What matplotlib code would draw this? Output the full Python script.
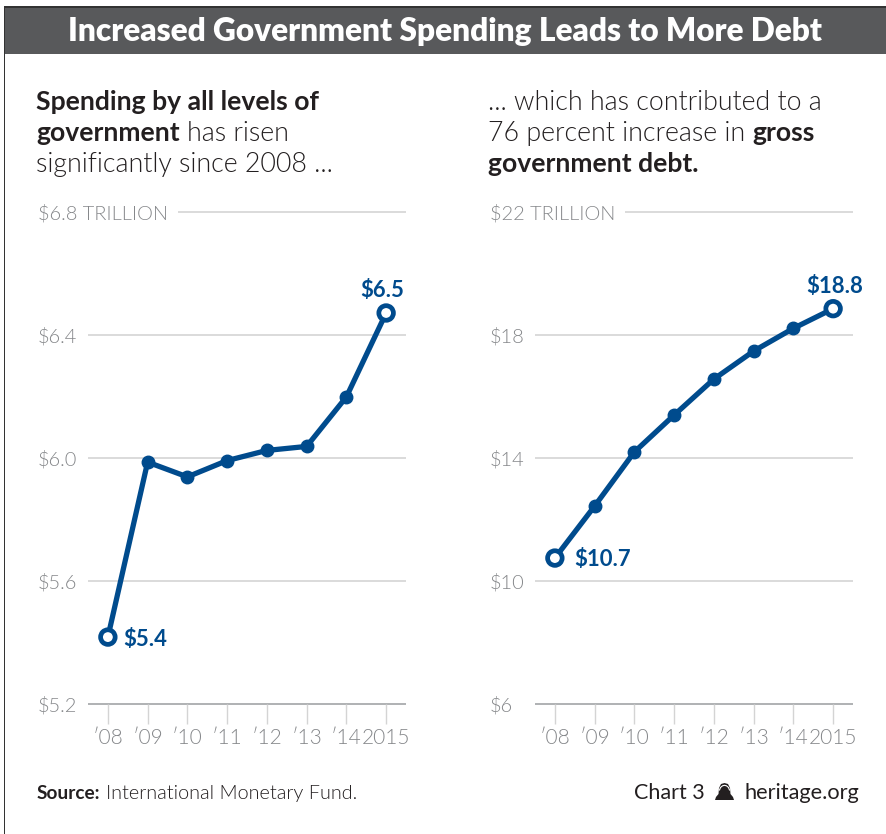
import matplotlib
matplotlib.use("Agg")
import matplotlib.pyplot as plt
import matplotlib.patheffects as pe
from matplotlib.lines import Line2D
from matplotlib.patches import Polygon, Rectangle

W, H = 887, 834
BLUE = "#004b8d"
GREY_TEXT = "#85878a"
GRID = "#d4d4d4"
DARK = "#231f20"
LIGHT = 300

years = [2008, 2009, 2010, 2011, 2012, 2013, 2014, 2015]
year_labels = ["\u203208", "\u203209", "\u203210", "\u203211", "\u203212", "\u203213", "\u203214", "2015"]

spending = [5.416, 5.985, 5.937, 5.99, 6.023, 6.036, 6.197, 6.47]
spending_ticks = [5.2, 5.6, 6.0, 6.4, 6.8]
spending_labels = ["$5.2", "$5.6", "$6.0", "$6.4", "$6.8 TRILLION"]

debt = [10.73, 12.42, 14.18, 15.38, 16.55, 17.46, 18.2, 18.84]
debt_ticks = [6, 10, 14, 18, 22]
debt_labels = ["$6", "$10", "$14", "$18", "$22 TRILLION"]

plt.rcParams["font.family"] = ["Lato", "DejaVu Sans"]

fig = plt.figure(figsize=(W / 100, H / 100), dpi=100)


def fx(px):
    return px / W


def fy(py):
    return 1 - py / H


def runs(x, y, parts, size, bold_size=None, color=DARK):
    # strings of mixed weight on one baseline, laid end to end
    rend = fig.canvas.get_renderer()
    for s, weight in parts:
        sz = bold_size if (bold_size and weight == "bold") else size
        t = fig.text(fx(x), fy(y), s, fontsize=sz, fontweight=weight, color=color,
                     ha="left", va="baseline")
        x = t.get_window_extent(rend).x1 + size * 0.36


def panel(left, values, ticks, labels, pad, top_start, label_first, label_last):
    ax = fig.add_axes([fx(left), fy(703.5), 318 / W, (703.5 - 211.5) / H])
    ax.set_xlim(2007.5, 2015.5)
    ax.set_ylim(ticks[0], ticks[-1])
    ax.patch.set_alpha(0)
    for s in ax.spines.values():
        s.set_visible(False)

    ax.hlines(ticks[1:-1], 2007.5, 2015.5, color=GRID, lw=1.2, zorder=1)
    ax.hlines(ticks[-1], top_start, 2015.5, color=GRID, lw=1.2, zorder=1, clip_on=False)
    ax.hlines(ticks[0], 2007.5, 2015.5, color="#a9abae", lw=1.3, zorder=1, clip_on=False)

    ax.set_yticks(ticks, labels)
    ax.tick_params(axis="y", length=0, pad=pad, labelsize=14.4, labelcolor=GREY_TEXT)
    for t in ax.get_yticklabels():
        t.set_ha("left")
        t.set_fontweight(LIGHT)

    ax.set_xticks(years, year_labels)
    ax.tick_params(axis="x", length=14.5, width=1, color=GRID, pad=3.5,
                   labelsize=15, labelcolor=GREY_TEXT)
    for t in ax.get_xticklabels():
        t.set_fontweight(LIGHT)

    ax.plot(years, values, color=BLUE, lw=3.8, marker="o", ms=9, zorder=3,
            clip_on=False, solid_joinstyle="round")
    shadow = [pe.SimplePatchShadow(offset=(0.5, -1.5), shadow_rgbFace="#555555", alpha=0.3),
              pe.Normal()]
    ax.plot([years[0], years[-1]], [values[0], values[-1]], ls="none", marker="o", ms=10.5,
            mfc="white", mec=BLUE, mew=3.4, zorder=4, clip_on=False, path_effects=shadow)

    ax.annotate(f"${values[0]:.1f}", (years[0], values[0]), xytext=label_first,
                textcoords="offset points", color=BLUE, fontsize=15.9, fontweight="bold",
                ha="left", va="center")
    ax.annotate(f"${values[-1]:.1f}", (years[-1], values[-1]), xytext=label_last,
                textcoords="offset points", color=BLUE, fontsize=15.9, fontweight="bold",
                ha="center", va="center")
    return ax


# header band and outer rules
fig.add_artist(Rectangle((fx(5), fy(54)), 1 - fx(5), 48 / H, transform=fig.transFigure,
                         color="#58595b", lw=0))
fig.add_artist(Rectangle((fx(4), fy(8)), 1 - fx(4), 2 / H, transform=fig.transFigure,
                         color="#333333", lw=0))
fig.add_artist(Rectangle((fx(4), 0), 1.5 / W, fy(6), transform=fig.transFigure,
                         color="#333333", lw=0))

fig.text(fx(445.5), fy(41), "Increased Government Spending Leads to More Debt", color="white",
         fontsize=22.8, fontweight="heavy", ha="center", va="baseline")

# intro text above each panel
SUB = 19.3
SUB_BOLD = 19.1
runs(36, 110, [("Spending by all levels of", "bold")], SUB, SUB_BOLD)
runs(36, 141, [("government", "bold"), ("has risen", LIGHT)], SUB, SUB_BOLD)
runs(36, 172, [("significantly since 2008 ...", LIGHT)], SUB, SUB_BOLD)

runs(488, 110, [("... which has contributed to a", LIGHT)], SUB, SUB_BOLD)
runs(488, 141, [("76 percent increase in", LIGHT), ("gross", "bold")], SUB, SUB_BOLD)
runs(488, 172, [("government debt.", "bold")], SUB, SUB_BOLD)

panel(88, spending, spending_ticks, spending_labels, 36, 2009.77, (11, -2), (-2.5, 16))
panel(535, debt, debt_ticks, debt_labels, 32.5, 2009.77, (14, -1), (1, 16))

# footer
runs(37, 799, [("Source:", "bold"), ("International Monetary Fund.", LIGHT)], 14.3, 13.7)
runs(634.5, 799, [("Chart 3", "normal")], 15.5)
runs(745, 799, [("heritage.org", "normal")], 15.7)

# bell mark between chart number and site name
bell = [(715, 800), (716, 797), (718.5, 794), (719, 788), (721, 784), (724.5, 783),
        (728, 784), (730, 788), (730.5, 794), (733, 797), (734, 800)]
fig.add_artist(Polygon([(fx(a), fy(b)) for a, b in bell], closed=True, transform=fig.transFigure,
                       color=DARK, lw=0))
arch = [(719.5, 790), (720.5, 787.5), (722.5, 785.8), (724.5, 785.3),
        (726.5, 785.8), (728.5, 787.5), (729.5, 790)]
fig.add_artist(Line2D([fx(a) for a, _ in arch], [fy(b) for _, b in arch],
                      transform=fig.transFigure, color="white", lw=0.8))

fig.savefig("out.png", dpi=100)
